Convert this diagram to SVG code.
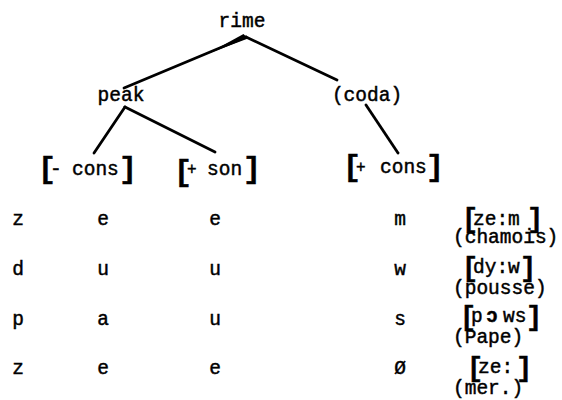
<svg xmlns="http://www.w3.org/2000/svg" width="562" height="400" viewBox="0 0 562 400">
  <style>
    text { font-family: "Liberation Mono", "DejaVu Sans Mono", monospace; font-size: 19.5px; fill: #000; stroke: #000; stroke-width: 0.45px; }
    .mid { text-anchor: middle; }
    .bk { font-size: 30px; font-weight: bold; stroke-width: 0.5px; }
    .bks { font-size: 27px; font-weight: bold; stroke-width: 0.5px; }
    .sm { font-size: 16px; }
    .ipa { font-weight: bold; }
    .edge { stroke: #000; stroke-width: 2.8; stroke-linecap: round; fill: none; }
  </style>

  <!-- tree branches -->
  <g id="connectors">
    <line class="edge" x1="246" y1="37" x2="124" y2="88"/>
    <polygon points="243.5,34 248,38.5 207,54" fill="#000"/>
    <line class="edge" x1="246" y1="37" x2="337" y2="80"/>
    <line class="edge" x1="125" y1="107" x2="94" y2="153"/>
    <line class="edge" x1="125" y1="107" x2="215" y2="152"/>
    <line class="edge" x1="366" y1="105" x2="398" y2="153"/>
  </g>

  <g id="rime"><text class="mid" x="242" y="27">rime</text></g>
  <g id="peak"><text class="mid" x="121" y="101">peak</text></g>
  <g id="coda"><text class="mid" x="367" y="101">(coda)</text></g>

  <g id="minus-cons">
    <text x="38" y="178"><tspan class="bk">[</tspan><tspan x="50" y="175">-</tspan><tspan x="72" y="175">cons</tspan><tspan class="bk" x="119" y="178">]</tspan></text>
  </g>
  <g id="plus-son">
    <text x="174" y="181"><tspan class="bk">[</tspan><tspan class="sm" x="187" y="174">+</tspan><tspan x="207" y="175">son</tspan><tspan class="bk" x="243" y="178">]</tspan></text>
  </g>
  <g id="plus-cons">
    <text x="343" y="176"><tspan class="bk">[</tspan><tspan class="sm" x="356" y="172">+</tspan><tspan x="380" y="173">cons</tspan><tspan class="bk" x="426" y="176">]</tspan></text>
  </g>

  <!-- segment columns -->
  <g id="segments">
    <text class="mid" x="18" y="225">z</text>
    <text class="mid" x="103" y="225">e</text>
    <text class="mid" x="215" y="225">e</text>
    <text class="mid" x="400" y="225">m</text>

    <text class="mid" x="18" y="275">d</text>
    <text class="mid" x="103" y="275">u</text>
    <text class="mid" x="215" y="275">u</text>
    <text class="mid" x="400" y="275">w</text>

    <text class="mid" x="18" y="325">p</text>
    <text class="mid" x="103" y="325">a</text>
    <text class="mid" x="215" y="325">u</text>
    <text class="mid" x="400" y="325">s</text>

    <text class="mid" x="18" y="374">z</text>
    <text class="mid" x="103" y="374">e</text>
    <text class="mid" x="215" y="374">e</text>
    <text class="mid" x="400" y="374">Ø</text>
  </g>

  <!-- transcriptions and glosses -->
  <g id="zem">
    <text x="462" y="227"><tspan class="bks">[</tspan><tspan x="473" y="225">ze:m</tspan><tspan class="bks" x="527" y="227">]</tspan></text>
    <text x="453" y="243">(chamois)</text>
  </g>
  <g id="dyw">
    <text x="462" y="276"><tspan class="bks">[</tspan><tspan x="473" y="273">dy:w</tspan><tspan class="bks" x="520" y="276">]</tspan></text>
    <text x="453" y="294">(pousse)</text>
  </g>
  <g id="pows">
    <text x="460" y="325"><tspan class="bks">[</tspan><tspan x="471" y="322">p </tspan><tspan class="ipa" x="486" y="322">ɔ </tspan><tspan x="503" y="322">ws</tspan><tspan class="bks" x="526" y="325">]</tspan></text>
    <text x="453" y="343">(Pape)</text>
  </g>
  <g id="ze">
    <text x="467" y="376"><tspan class="bks">[</tspan><tspan x="478" y="373">ze:</tspan><tspan class="bks" x="516" y="376">]</tspan></text>
    <text x="453" y="394">(mer.)</text>
  </g>
</svg>
